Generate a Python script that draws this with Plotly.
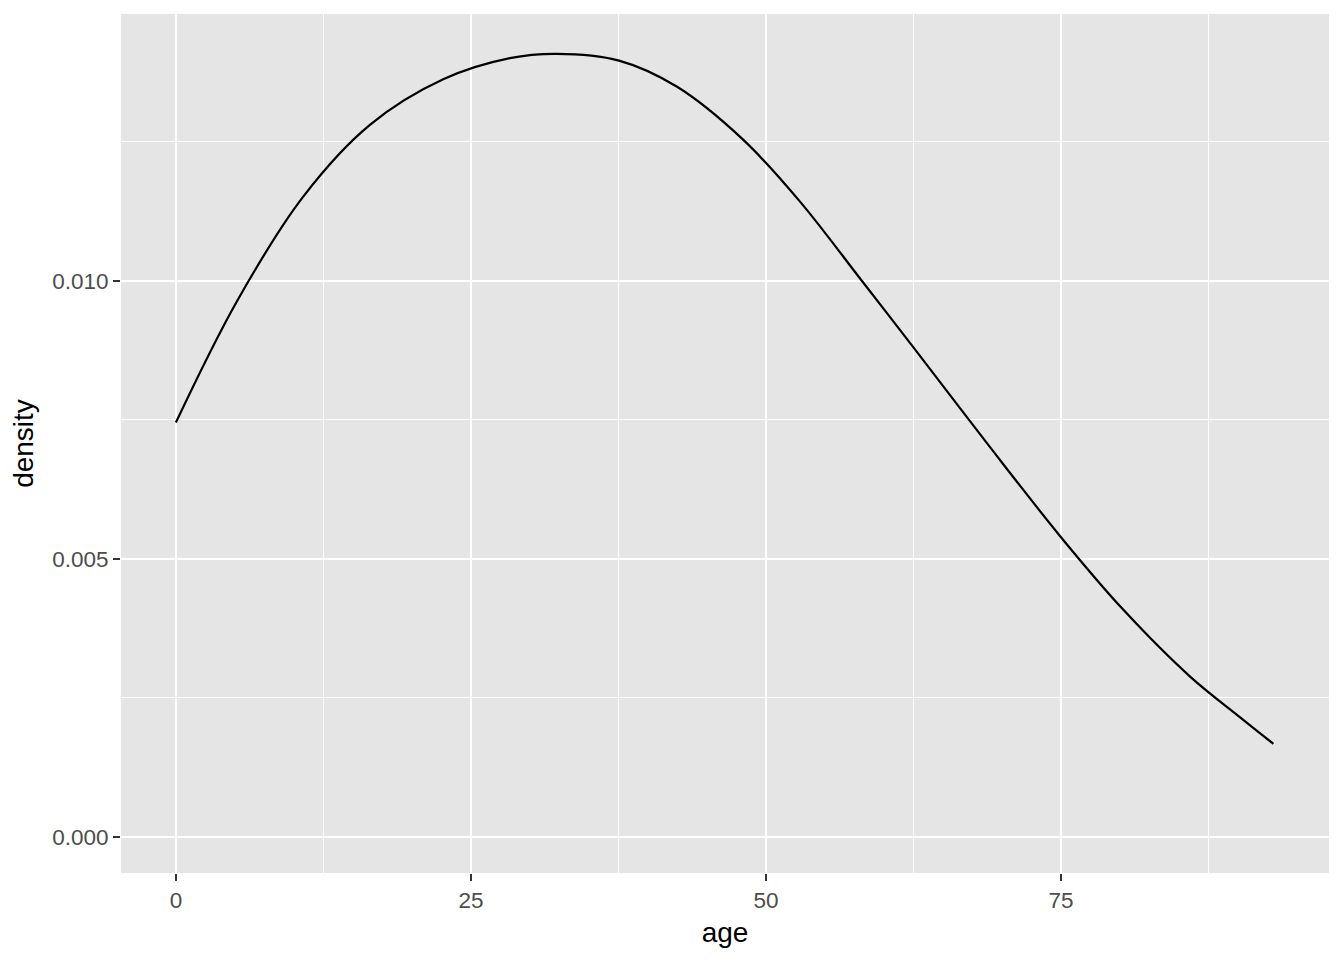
import plotly.graph_objects as go

age = [0, 5.14, 10.79, 16.44, 22.65, 28.3, 32.26, 37.54, 42.43, 48.08,
       52.88, 58.1, 62.54, 68.98, 75.06, 80.28, 85.93, 90.17, 92.99]
density = [0.007452, 0.00962, 0.011516, 0.012806, 0.013625, 0.014005,
           0.014083, 0.013962, 0.013495, 0.012536, 0.011426, 0.010006,
           0.008789, 0.007009, 0.005372, 0.004083, 0.002883, 0.00215,
           0.001673]

x_ticks = [0, 25, 50, 75]
x_minor = [12.5, 37.5, 62.5, 87.5]
y_ticks = [0.0, 0.005, 0.010]
y_ticklabels = ["0.000", "0.005", "0.010"]
y_minor = [0.0025, 0.0075, 0.0125]

fig = go.Figure()
fig.add_trace(go.Scatter(x=age, y=density, mode="lines",
                         line=dict(color="black", width=2.2, shape="spline", smoothing=1.0),
                         showlegend=False, hoverinfo="skip"))

font_family = "Liberation Sans, Arial, sans-serif"
tick_font = dict(size=22.5, color="#4D4D4D", family=font_family)
title_font = dict(size=28, color="black", family=font_family)

fig.update_layout(
    width=1336, height=952,
    margin=dict(l=113, r=15, t=6, b=87),
    paper_bgcolor="white",
    plot_bgcolor="#E5E5E5",
    font=dict(family=font_family, color="#4D4D4D"),
    xaxis=dict(
        range=[-4.65, 97.7],
        tickmode="array", tickvals=x_ticks, ticktext=[str(v) for v in x_ticks],
        ticks="outside", ticklen=7, tickwidth=2, tickcolor="#333333",
        tickfont=tick_font,
        showgrid=True, gridcolor="white", gridwidth=2.2,
        zeroline=False, showline=False,
        minor=dict(tickmode="array", tickvals=x_minor,
                   showgrid=True, gridcolor="white", gridwidth=1.1, ticks=""),
        title=dict(text="age", font=title_font, standoff=10),
    ),
    yaxis=dict(
        range=[-0.00065, 0.0148],
        tickmode="array", tickvals=y_ticks, ticktext=y_ticklabels,
        ticks="outside", ticklen=7, tickwidth=2, tickcolor="#333333",
        tickfont=tick_font,
        showgrid=True, gridcolor="white", gridwidth=2.2,
        zeroline=False, showline=False,
        minor=dict(tickmode="array", tickvals=y_minor,
                   showgrid=True, gridcolor="white", gridwidth=1.1, ticks=""),
        title=dict(text="density", font=title_font, standoff=10),
    ),
)

fig.write_html("out.html")
